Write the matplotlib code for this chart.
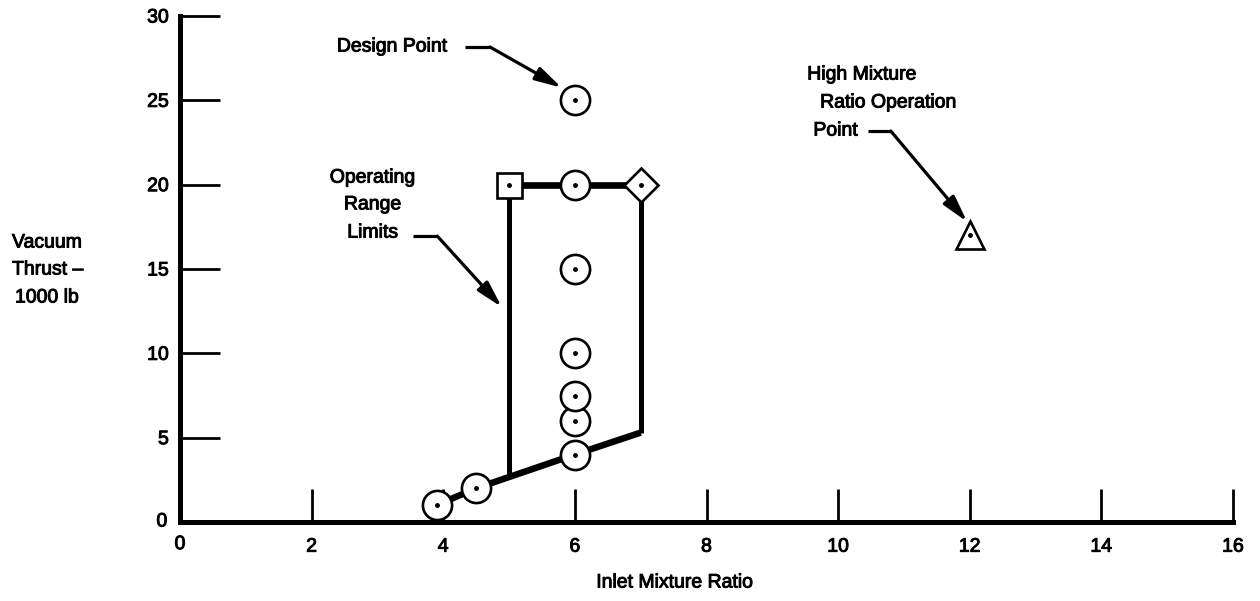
import matplotlib
matplotlib.use('Agg')
import matplotlib.pyplot as plt
import matplotlib.patheffects as pe
import numpy as np

plt.rcParams['font.family'] = ['Liberation Sans', 'DejaVu Sans']
plt.rcParams['font.size'] = 14

# test points (inlet mixture ratio, vacuum thrust in 1000 lb)
test_mr = [3.9, 4.5, 6.0, 6.0, 6.0, 6.0, 6.0, 6.0, 6.0]
test_thrust = [1.0, 2.0, 4.0, 6.0, 7.5, 10.0, 15.0, 20.0, 25.0]

# operating range limits
lower_mr = [3.9, 4.5, 6.0, 7.0]
lower_thrust = [1.0, 2.0, 4.0, 5.3]
left_mr = [5.0, 5.0]
left_thrust = [2.65, 20.0]
top_mr = [5.0, 7.0]
top_thrust = [20.0, 20.0]
right_mr = [7.0, 7.0]
right_thrust = [5.3, 20.0]

square_pt = (5.0, 20.0)
diamond_pt = (7.0, 20.0)
high_mr_pt = (12.0, 17.0)

x_ticks = [2, 4, 6, 8, 10, 12, 14, 16]
x_labels = ['0', '2', '4', '6', '8', '10', '12', '14', '16']
y_ticks = [5, 10, 15, 20, 25, 30]
y_labels = ['0', '5', '10', '15', '20', '25', '30']

heavy = [pe.withStroke(linewidth=0.7, foreground='black')]

fig = plt.figure(figsize=(12.6, 6.01), dpi=100)
ax = fig.add_axes([180/1260, 79/601, 1053/1260, 506/601])

ax.set_xlim(0, 16)
ax.set_ylim(0, 30)
for s in ['top', 'right']:
  ax.spines[s].set_visible(False)
for s in ['left', 'bottom']:
  ax.spines[s].set_linewidth(3.6)
  ax.spines[s].set_capstyle('projecting')

ax.set_xticks(x_ticks)
ax.set_xticklabels(x_labels[1:])
ax.set_yticks(y_ticks)
ax.set_yticklabels(y_labels[1:])
ax.tick_params(axis='x', direction='in', length=24, width=2, pad=12, labelsize=14)
ax.tick_params(axis='y', direction='in', length=29, width=2, pad=8, labelsize=14)
for lab in ax.get_xticklabels() + ax.get_yticklabels():
  lab.set_path_effects(heavy)
# the zero labels sit at the corner, with no tick
ax.text(0, -0.028, x_labels[0], transform=ax.transAxes, ha='center', va='top', path_effects=heavy)
ax.text(-0.012, 0, y_labels[0], transform=ax.transAxes, ha='right', va='center', path_effects=heavy)

# boundary lines
ax.plot(lower_mr, lower_thrust, color='black', lw=4.7, solid_capstyle='butt', zorder=2)
ax.plot(left_mr, left_thrust, color='black', lw=3.6, solid_capstyle='butt', zorder=2)
ax.plot(right_mr, right_thrust, color='black', lw=3.6, solid_capstyle='butt', zorder=2)
ax.plot(top_mr, top_thrust, color='black', lw=4.8, solid_capstyle='butt', zorder=2)

# markers
ax.plot(test_mr, test_thrust, linestyle='none', marker='o', ms=21, mfc='white',
        mec='black', mew=1.9, zorder=3, clip_on=False)
ax.plot(*square_pt, marker='s', ms=18, mfc='white', mec='black', mew=1.9, zorder=3)
ax.plot(*diamond_pt, marker='D', ms=17, mfc='white', mec='black', mew=1.9, zorder=3)
ax.plot(*high_mr_pt, marker='^', ms=20, mfc='white', mec='black', mew=1.9, zorder=3)

all_x = test_mr + [square_pt[0], diamond_pt[0], high_mr_pt[0]]
all_y = test_thrust + [square_pt[1], diamond_pt[1], high_mr_pt[1]]
ax.plot(all_x, all_y, linestyle='none', marker='o', ms=2.5, color='black', zorder=4)

# callouts
def callout(x0, x1, y, tip):
  ax.plot([x0, x1], [y, y], color='black', lw=2.3, solid_capstyle='butt')
  ax.annotate('', xy=tip, xytext=(x1, y),
              arrowprops=dict(arrowstyle='-|>,head_length=1.6,head_width=0.42',
                              color='black', lw=2.3, shrinkA=0, shrinkB=0,
                              mutation_scale=10))

def label(x, y, s, ha):
  ax.text(x, y, s, ha=ha, va='center', path_effects=heavy)

label(4.07, 28.16, 'Design Point', 'right')
callout(4.33, 4.71, 28.16, (5.80, 25.75))

label(2.93, 20.39, 'Operating', 'center')
label(2.93, 18.8, 'Range', 'center')
label(2.93, 17.13, 'Limits', 'center')
callout(3.54, 3.91, 16.95, (4.89, 12.74))

label(11.2, 26.5, 'High Mixture', 'right')
label(11.81, 24.84, 'Ratio Operation', 'right')
label(10.3, 23.18, 'Point', 'right')
callout(10.45, 10.80, 23.18, (11.96, 17.8))

# axis titles
fig.text(675/1260, 1 - 583/601, 'Inlet Mixture Ratio', ha='center', va='center', path_effects=heavy)
fig.text(12/1260, 1 - 243/601, 'Vacuum', ha='left', va='center', path_effects=heavy)
fig.text(12/1260, 1 - 270/601, 'Thrust \u2013', ha='left', va='center', path_effects=heavy)
fig.text(15/1260, 1 - 298/601, '1000 lb', ha='left', va='center', path_effects=heavy)

plt.savefig('out.png', dpi=100)
